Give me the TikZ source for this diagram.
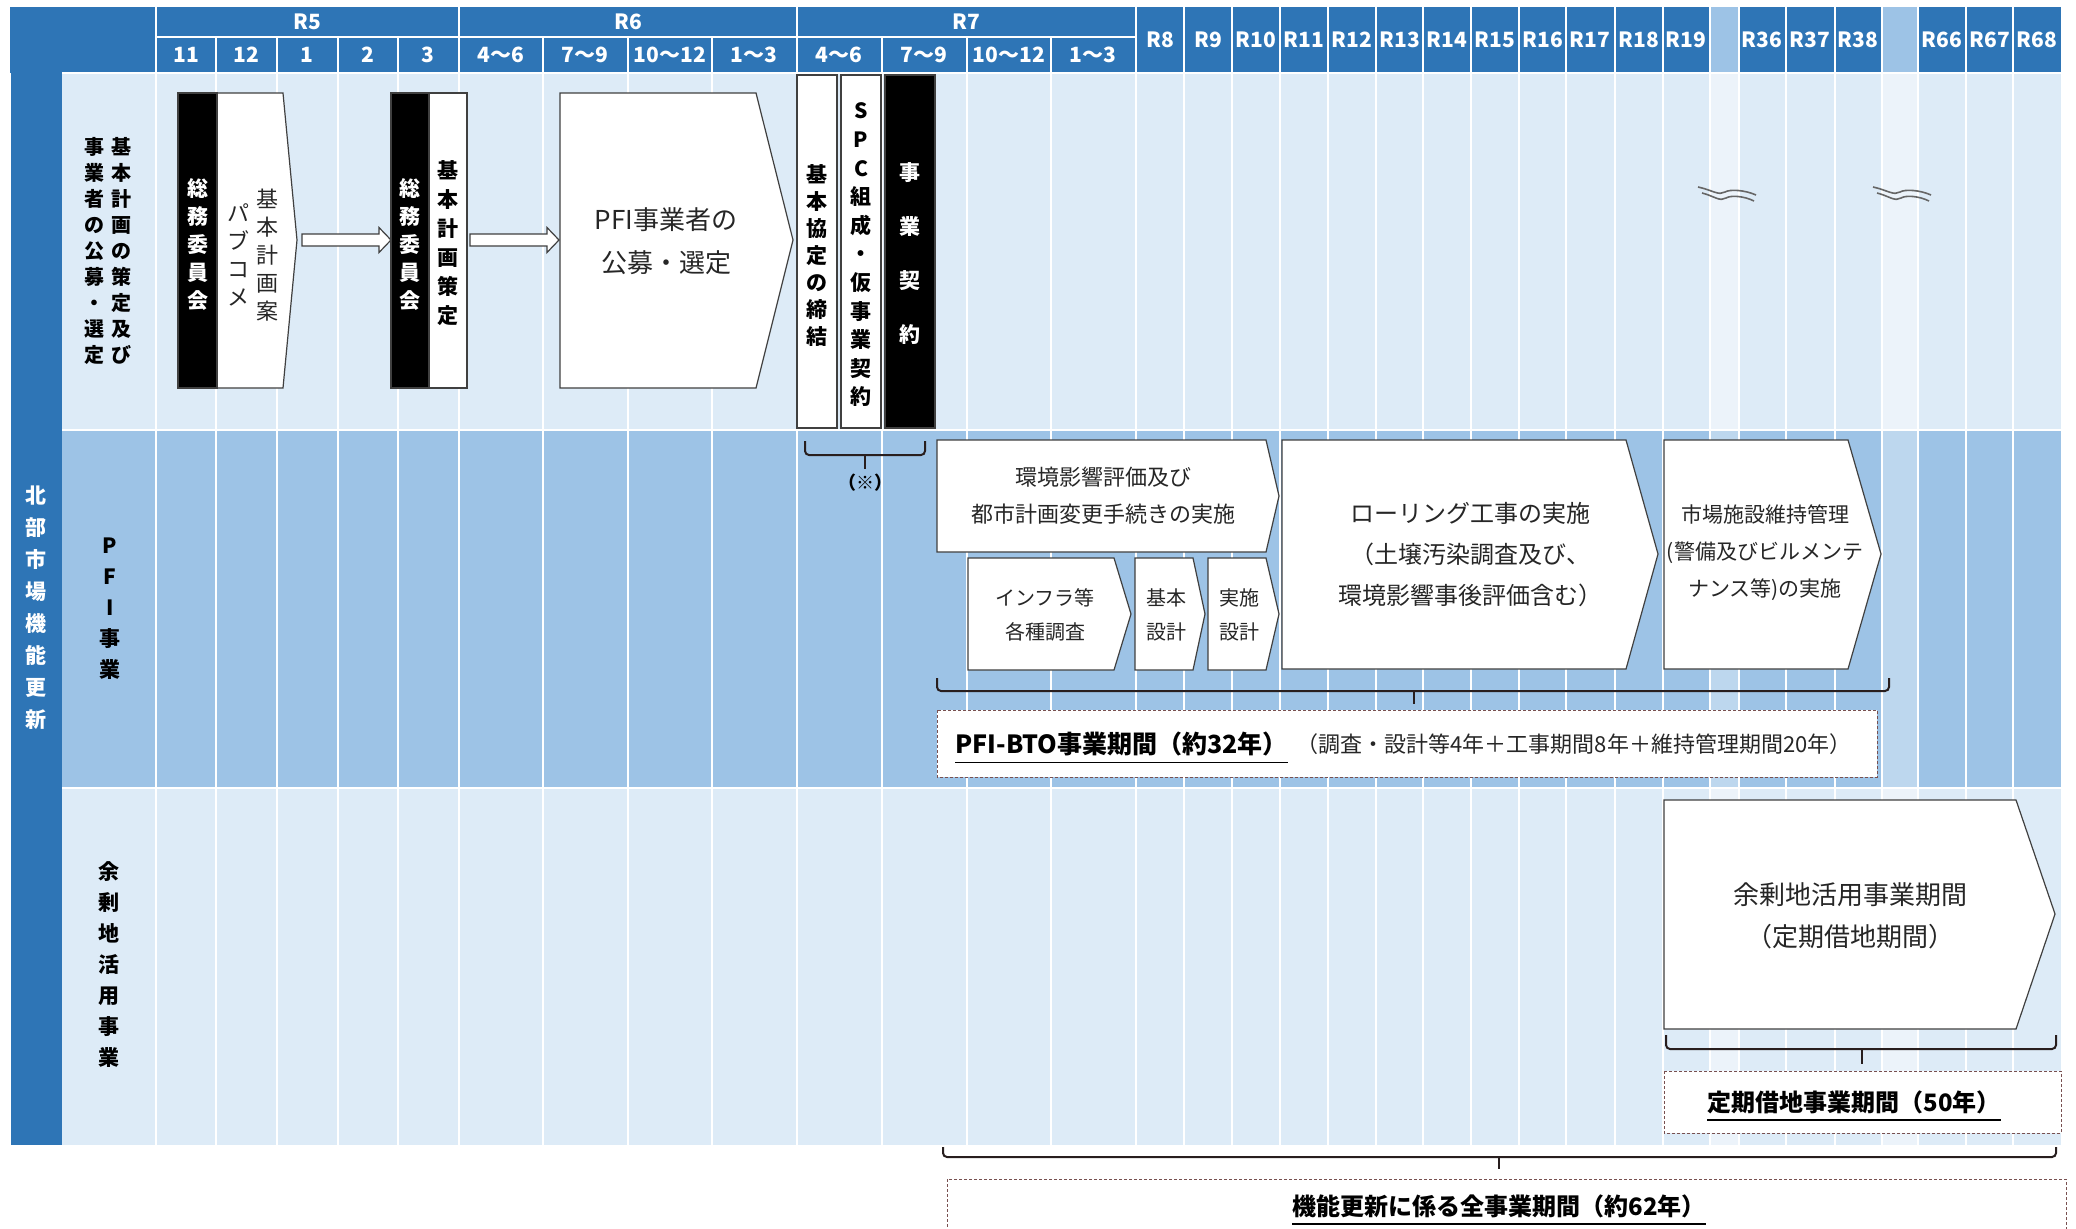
\documentclass[tikz,border=0pt]{standalone}
\usepackage{fontspec}
\setmainfont{Noto Sans CJK JP}
\usetikzlibrary{calc}
\definecolor{headblue}{RGB}{46,117,182}
\definecolor{gaphead}{RGB}{157,195,230}
\definecolor{rowlight}{RGB}{221,235,247}
\definecolor{rowmid}{RGB}{157,195,230}
\definecolor{gaplight}{RGB}{236,243,250}
\definecolor{gapmid}{RGB}{189,215,238}
\definecolor{boxline}{RGB}{64,64,64}
\definecolor{txtgray}{RGB}{38,38,38}
\definecolor{dashline}{RGB}{120,80,80}
\tikzset{
  cell/.style={draw=white,line width=0.8pt},
  stagebox/.style={draw=boxline,fill=white,line width=0.6pt},
  blackbox/.style={draw=boxline,fill=black,line width=0.6pt},
  hollowarrow/.style={draw=boxline,fill=white,line width=0.6pt},
  bracket/.style={draw={rgb,255:red,40;green,30;blue,30},line width=1pt,rounded corners=2pt},
  periodbox/.style={draw=dashline,fill=white,line width=0.5pt,dash pattern=on 1.5pt off 1pt},
  vlabel/.style={inner sep=0pt,align=center,font=\bfseries\fontsize{10}{13}\selectfont},
  headtext/.style={text=white,inner sep=0pt,font=\bfseries\fontsize{10.5}{12}\selectfont},
  stagetext/.style={text=txtgray,inner sep=0pt,align=center},
  periodtext/.style={inner sep=0pt,font=\bfseries\fontsize{12}{14}\selectfont},
  underbar/.style={line width=0.9pt},
  breakmark/.style={draw=black!60,line width=0.8pt},
}
\begin{document}
\begin{tikzpicture}[x=0.5pt,y=0.5pt,yscale=-1,xscale=1]
\useasboundingbox (0,0) rectangle (2076,1228);
% header band and body rows
\fill[headblue] (10,7) rectangle (2061,73);
\fill[gaphead] (1710,7) rectangle (1739,73);
\fill[gaphead] (1882,7) rectangle (1918,73);
\fill[headblue] (11,73) rectangle (62,1145);
\fill[rowlight] (62,73) rectangle (2061,430);
\fill[rowmid] (62,430) rectangle (2061,788);
\fill[rowlight] (62,788) rectangle (2061,1145);
\foreach \a/\b in {1710/1739,1882/1918} {
  \fill[gaplight] (\a,73) rectangle (\b,430);
  \fill[gapmid] (\a,430) rectangle (\b,788);
  \fill[gaplight] (\a,788) rectangle (\b,1145);
}
% grid
\foreach \x in {156,216,277,338,398,459,543,628,712,797,882,967,1051,1136,1184,1232,1280,1328,1376,1423,1471,1519,1566,1615,1663,1710,1739,1786,1835,1882,1918,1966,2013}
  \draw[cell] (\x,73) -- (\x,1145);
\foreach \y in {73,430,788}
  \draw[cell] (62,\y) -- (2061,\y);
\foreach \x in {156,459,797,1136,1184,1232,1280,1328,1376,1423,1471,1519,1566,1615,1663,1710,1739,1786,1835,1882,1918,1966,2013}
  \draw[cell] (\x,7) -- (\x,73);
\foreach \x in {216,277,338,398,543,628,712,882,967,1051}
  \draw[cell] (\x,37) -- (\x,73);
\draw[cell] (156,37) -- (1136,37);
% header labels
\node[headtext] (r5) at (307,22) {R5};
\node[headtext] (r6) at (628,22) {R6};
\node[headtext] (r7) at (966,22) {R7};
\foreach \x/\t in {186/11,246/12,307/1,368/2,428/3,501/4～6,585/7～9,670/10～12,754/1～3,839/4～6,924/7～9,1009/10～12,1093/1～3}
  \node[headtext] (m\x) at (\x,55) {\t};
\foreach \x/\t in {1160/R8,1208/R9,1256/R10,1304/R11,1352/R12,1400/R13,1447/R14,1495/R15,1543/R16,1590/R17,1639/R18,1686/R19,1762/R36,1810/R37,1858/R38,1942/R66,1990/R67,2037/R68}
  \node[headtext] (y\t) at (\x,40) {\t};
% row labels
\node[vlabel,text=white,font=\bfseries\fontsize{10.5}{16}\selectfont] (mainlbl) at (36,608) {北\\部\\市\\場\\機\\能\\更\\新};
\node[vlabel] (planlbl) at (121,251) {基\\本\\計\\画\\の\\策\\定\\及\\び};
\node[vlabel] (sellbl) at (94,251) {事\\業\\者\\の\\公\\募\\・\\選\\定};
\node[vlabel,font=\bfseries\fontsize{10.5}{15.5}\selectfont] (pfilbl) at (110,609) {P\\F\\I\\事\\業};
\node[vlabel,font=\bfseries\fontsize{10.5}{15.5}\selectfont] (surpluslbl) at (109,965) {余\\剰\\地\\活\\用\\事\\業};
% basic plan draft
\draw[stagebox] (178,93) -- (283,93) -- (297,240) -- (283,388) -- (178,388) -- cycle;
\draw[blackbox] (178,93) rectangle (217,388);
\node[vlabel,text=white,font=\bfseries\fontsize{10.5}{14}\selectfont] (com1) at (198,244) {総\\務\\委\\員\\会};
\node[stagetext,font=\fontsize{11}{14}\selectfont] (draft) at (267,255) {基\\本\\計\\画\\案};
\node[stagetext,font=\fontsize{11}{14}\selectfont] (pubcom) at (238,255) {パ\\ブ\\コ\\メ};
% basic plan decided
\draw[stagebox] (391,93) rectangle (467,388);
\draw[blackbox] (391,93) rectangle (429,388);
\node[vlabel,text=white,font=\bfseries\fontsize{10.5}{14}\selectfont] (com2) at (410,244) {総\\務\\委\\員\\会};
\node[vlabel,font=\bfseries\fontsize{10.5}{14.5}\selectfont] (plan) at (448,243) {基\\本\\計\\画\\策\\定};
% tender
\draw[stagebox] (560,93) -- (756,93) -- (793,240) -- (756,388) -- (560,388) -- cycle;
\node[stagetext,font=\fontsize{13}{21.5}\selectfont] (tender) at (666,241) {PFI事業者の\\公募・選定};
% arrows between steps
\coordinate (a1s) at (302,240);
\coordinate (a1e) at (391,240);
\coordinate (a2s) at (470,240);
\coordinate (a2e) at (559,240);
\foreach \s/\e in {a1s/a1e,a2s/a2e}
  \draw[hollowarrow] ($(\s)+(0,-6)$) -- ($(\e)+(-12,-6)$) -- ($(\e)+(-12,-12.5)$) -- (\e)
    -- ($(\e)+(-12,12.5)$) -- ($(\e)+(-12,6)$) -- ($(\s)+(0,6)$) -- cycle;
% agreements
\draw[stagebox] (797,75) rectangle (837,428);
\node[vlabel,font=\bfseries\fontsize{10.5}{13.5}\selectfont] (basicagr) at (817,256) {基\\本\\協\\定\\の\\締\\結};
\draw[stagebox] (841,75) rectangle (881,428);
\node[vlabel,font=\bfseries\fontsize{10.5}{14.3}\selectfont] (spc) at (861,255) {S\\P\\C\\組\\成\\・\\仮\\事\\業\\契\\約};
\draw[blackbox] (885,75) rectangle (935,428);
\node[vlabel,text=white,font=\bfseries\fontsize{10.5}{27}\selectfont] (contract) at (910,254) {事\\業\\契\\約};
\draw[bracket] (805,441) -- (805,455) -- (925,455) -- (925,441);
\node[inner sep=0pt,font=\bfseries\fontsize{9}{10}\selectfont] (note) at (865,483) {（※）};
\draw[bracket] (865,455) -- (865,469);
% PFI stages
\draw[stagebox] (937,440) -- (1266,440) -- (1279,496) -- (1266,552) -- (937,552) -- cycle;
\node[stagetext,font=\fontsize{11}{18.5}\selectfont] (envassess) at (1103,496) {環境影響評価及び\\都市計画変更手続きの実施};
\draw[stagebox] (968,558) -- (1114,558) -- (1131,614) -- (1114,670) -- (968,670) -- cycle;
\node[stagetext,font=\fontsize{10}{17}\selectfont] (survey) at (1045,615) {インフラ等\\各種調査};
\draw[stagebox] (1135,558) -- (1193,558) -- (1205,614) -- (1193,670) -- (1135,670) -- cycle;
\node[stagetext,font=\fontsize{10}{17}\selectfont] (basicdes) at (1166,615) {基本\\設計};
\draw[stagebox] (1208,558) -- (1266,558) -- (1279,614) -- (1266,670) -- (1208,670) -- cycle;
\node[stagetext,font=\fontsize{10}{17}\selectfont] (detdes) at (1239,615) {実施\\設計};
\draw[stagebox] (1282,440) -- (1626,440) -- (1658,554) -- (1626,669) -- (1282,669) -- cycle;
\node[stagetext,font=\fontsize{12}{20.5}\selectfont] (rolling) at (1470,555) {ローリング工事の実施\\（土壌汚染調査及び、\\環境影響事後評価含む）};
\draw[stagebox] (1664,440) -- (1848,440) -- (1881,554) -- (1848,669) -- (1664,669) -- cycle;
\node[stagetext,font=\fontsize{10.5}{18.5}\selectfont] (maint) at (1765,553) {市場施設維持管理\\(警備及びビルメンテ\\ナンス等)の実施};
\draw[bracket] (937,678) -- (937,691) -- (1889,691) -- (1889,678);
\draw[bracket] (1414,691) -- (1414,704);
\draw[periodbox] (937,710) rectangle (1877,777);
\node[periodtext,font=\bfseries\fontsize{12.5}{14}\selectfont,anchor=west] (bto) at (955,744) {PFI-BTO事業期間（約32年）};
\node[inner sep=0pt,anchor=west,text=txtgray,font=\fontsize{11}{14}\selectfont] (btonote) at ([xshift=4]bto.east) {（調査・設計等4年＋工事期間8年＋維持管理期間20年）};
\draw[underbar] ([yshift=3]bto.south west) -- ([yshift=3]bto.south east);
% surplus land
\draw[stagebox] (1664,800) -- (2016,800) -- (2055,914) -- (2016,1029) -- (1664,1029) -- cycle;
\node[stagetext,font=\fontsize{13}{21}\selectfont] (lease) at (1850,916) {余剰地活用事業期間\\（定期借地期間）};
\draw[bracket] (1666,1035) -- (1666,1049) -- (2056,1049) -- (2056,1035);
\draw[bracket] (1862,1049) -- (1862,1064);
\draw[periodbox] (1664,1071) rectangle (2061,1133);
\node[periodtext] (leaseperiod) at (1854,1102) {定期借地事業期間（50年）};
\draw[underbar] ([yshift=3]leaseperiod.south west) -- ([yshift=3]leaseperiod.south east);
% whole period
\draw[bracket] (943,1147) -- (943,1157) -- (2056,1157) -- (2056,1147);
\draw[bracket] (1499,1157) -- (1499,1169);
\draw[periodbox] (947,1179) rectangle (2066,1250);
\node[periodtext] (total) at (1499,1206) {機能更新に係る全事業期間（約62年）};
\draw[underbar] ([yshift=3]total.south west) -- ([yshift=3]total.south east);
% break marks
\foreach \x in {1727,1902} {
  \draw[breakmark] (\x-29,187) .. controls (\x-15,190) and (\x-8,196) .. (\x-2,192) .. controls (\x+3,189) and (\x+18,190) .. (\x+29,195);
  \draw[breakmark] (\x-25,193) .. controls (\x-13,196) and (\x-7,202) .. (\x-1,198) .. controls (\x+4,195) and (\x+17,196) .. (\x+27,201);
}
\end{tikzpicture}
\end{document}
